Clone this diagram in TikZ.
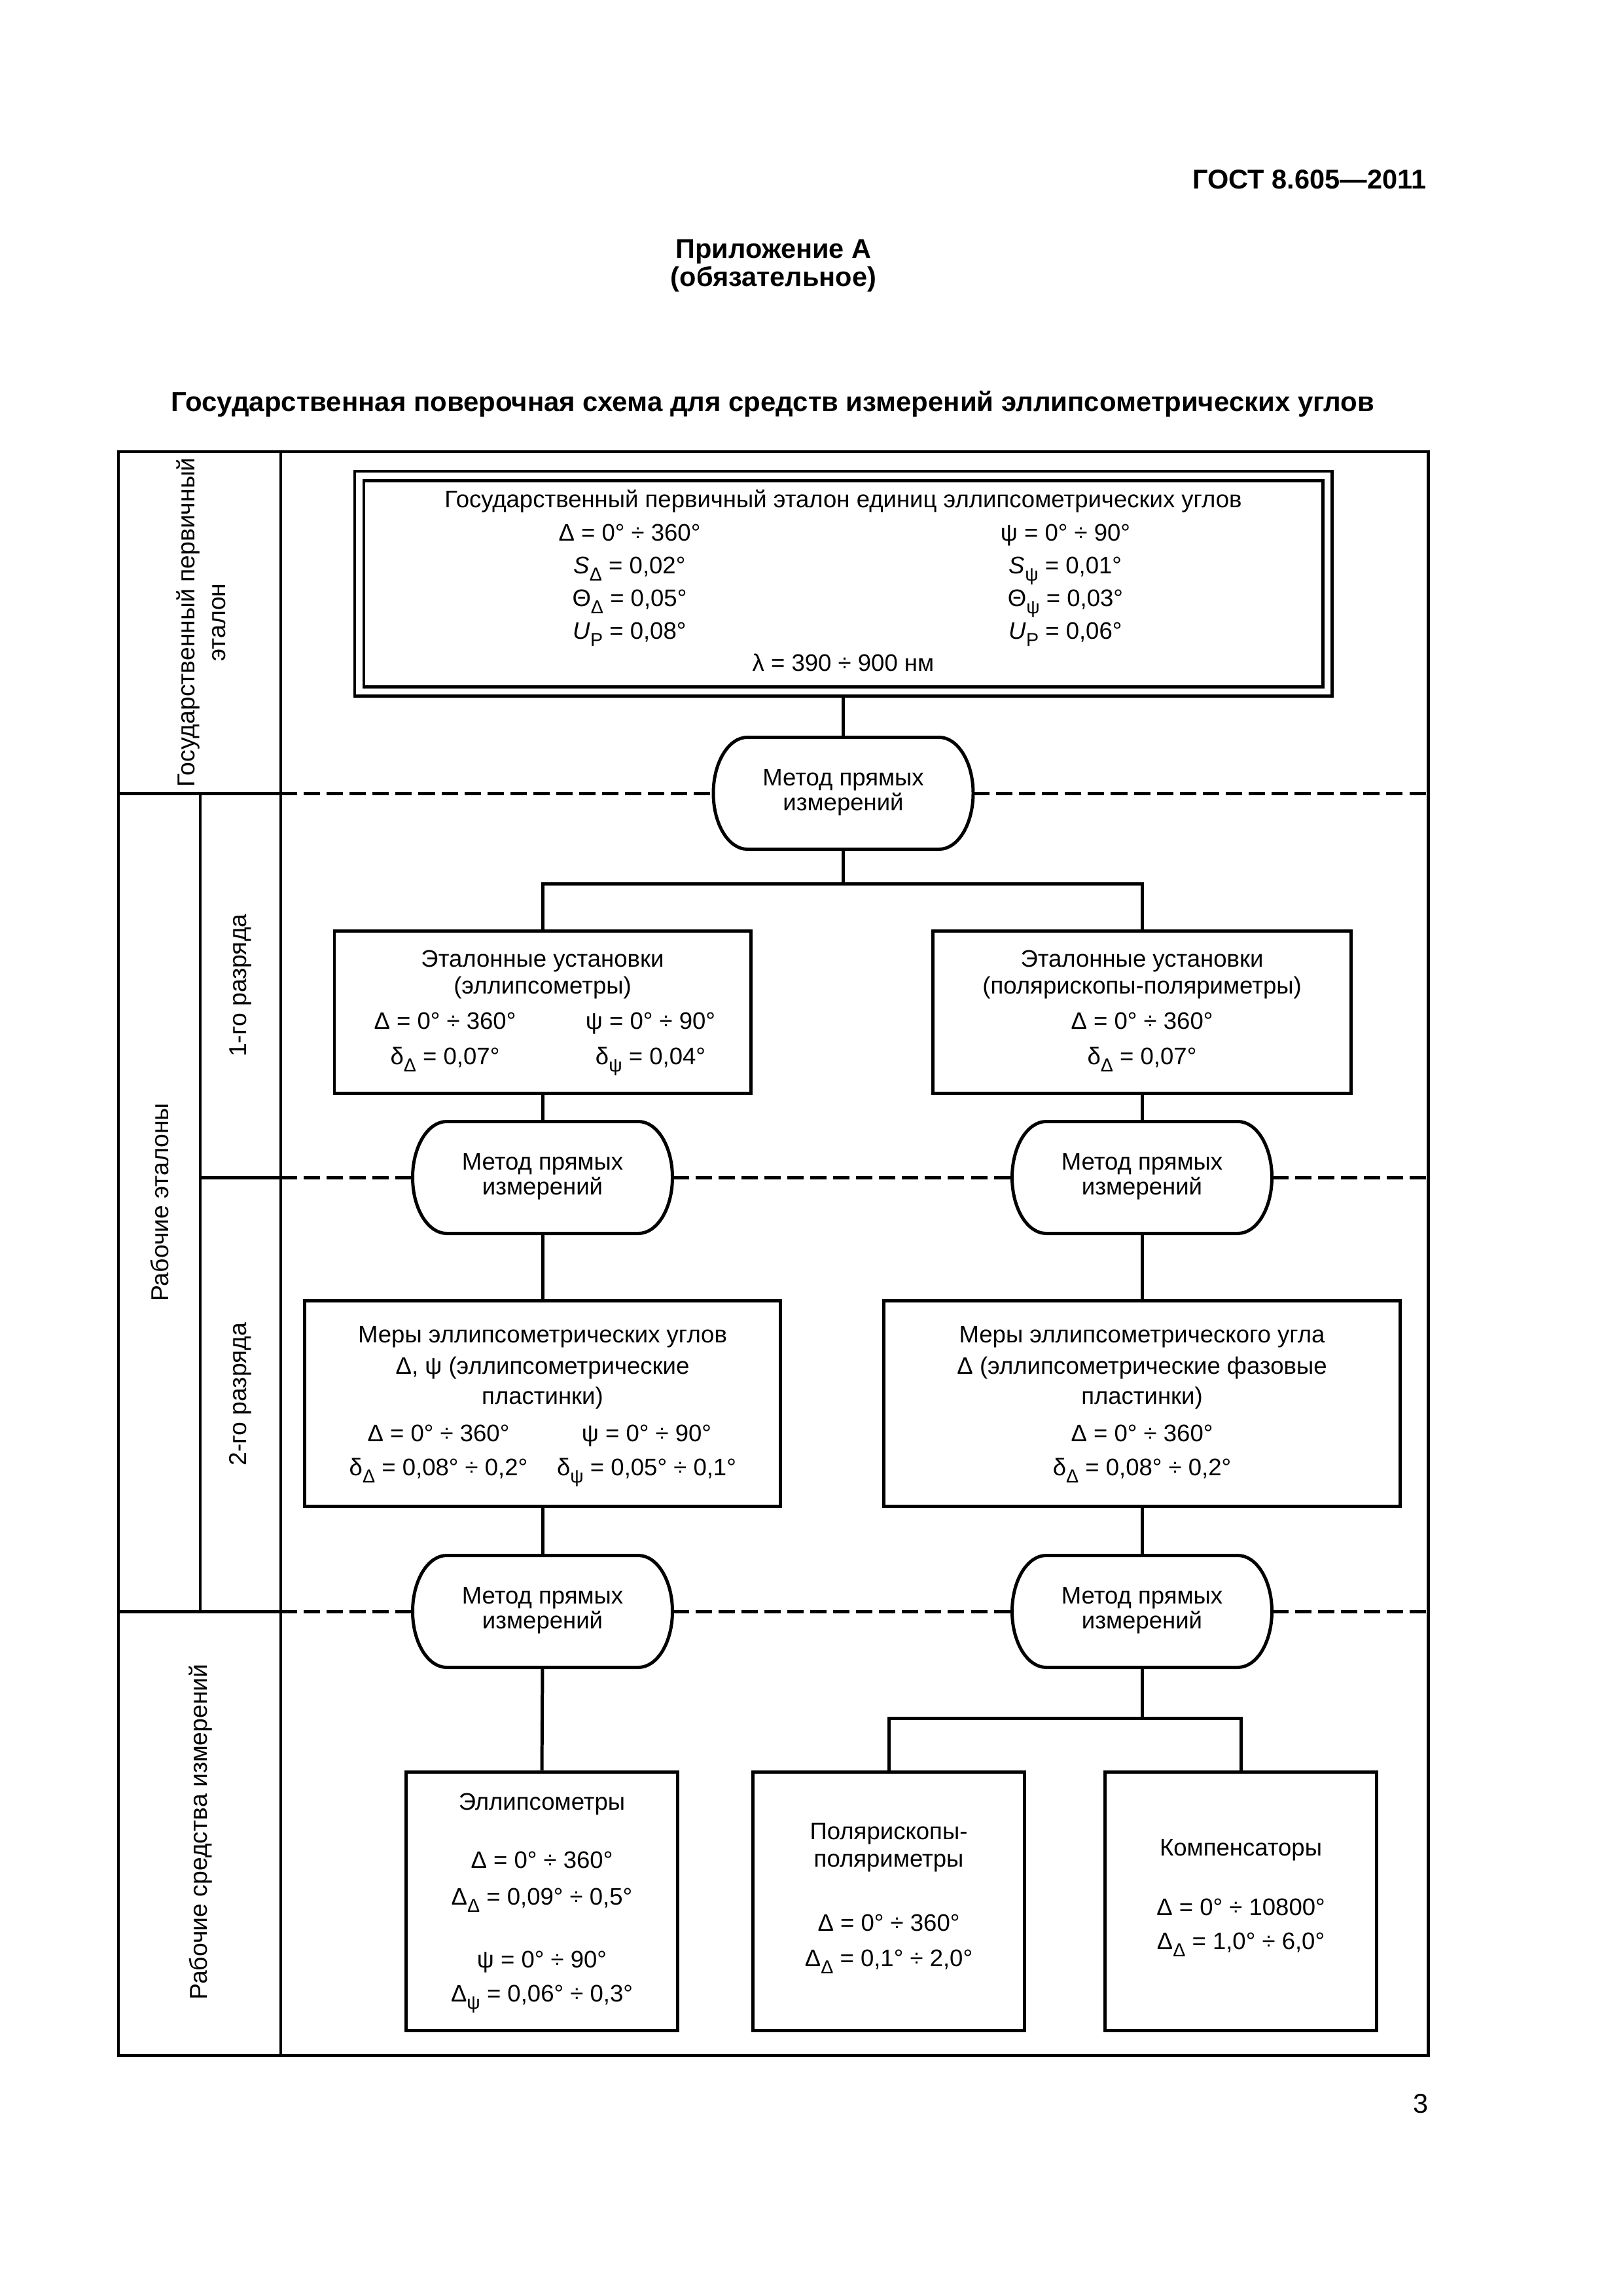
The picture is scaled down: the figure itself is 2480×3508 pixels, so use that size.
\documentclass[tikz,border=0pt]{standalone}
\usepackage{fontspec}
\setmainfont{Liberation Sans}
\usetikzlibrary{calc}
\newcommand\bodyf{\fontsize{8.8pt}{10.5pt}\selectfont}
\newcommand\labf{\fontsize{9pt}{11.3pt}\selectfont}
\newcommand\hdrf{\fontsize{10pt}{12pt}\selectfont\bfseries}
\newcommand\ttlf{\fontsize{10.1pt}{12pt}\selectfont\bfseries}
\newcommand\pagef{\fontsize{10pt}{12pt}\selectfont}
\newcommand\sub[1]{\raisebox{-0.32em}{\fontsize{6.9pt}{6.9pt}\selectfont #1}}
\newcommand\drawoval[1]{%
  \draw[ln, fill=white] ($(#1.north west)+(52,0)$) -- ($(#1.north east)+(-52,0)$)
    .. controls +(28.7,0) and +(0,-47.2) .. (#1.east)
    .. controls +(0,47.2) and +(28.7,0) .. ($(#1.south east)+(-52,0)$)
    -- ($(#1.south west)+(52,0)$)
    .. controls +(-28.7,0) and +(0,47.2) .. (#1.west)
    .. controls +(0,-47.2) and +(-28.7,0) .. ($(#1.north west)+(52,0)$) -- cycle;}
\newcommand\methodoval[3]{%
  \node[ovn] (#1) at (#2,#3) {};
  \drawoval{#1}
  \node[txt] (#1a) at ($(#1.center)+(0,-12)$) {Метод прямых};
  \node[txt] (#1b) at ($(#1.center)+(0,26)$) {измерений};}
\begin{document}
\begin{tikzpicture}[x=0.0846774mm,y=-0.0846774mm,
  ln/.style={line width=1.2pt},
  dsh/.style={line width=1.2pt, dash pattern=on 2.12mm off 0.85mm},
  boxn/.style 2 args={draw, line width=1.2pt, inner sep=0pt,
    minimum width={#1*0.0846774mm}, minimum height={#2*0.0846774mm}},
  ovn/.style={inner sep=0pt, outer sep=0pt,
    minimum width={397*0.0846774mm}, minimum height={171*0.0846774mm}},
  txt/.style={anchor=base, inner sep=0pt, font=\bodyf},
  lab/.style={rotate=90, inner sep=0pt, font=\labf, align=center},
  hdr/.style={anchor=base, inner sep=0pt, font=\hdrf}]
\useasboundingbox (0,0) rectangle (2480,3508);

% headers
\node[hdr, anchor=base east] (gost) at (2180,288) {ГОСТ 8.605—2011};
\node[hdr] (app) at (1182,394) {Приложение А};
\node[hdr] (oblig) at (1182,437) {(обязательное)};
\node[hdr, font=\ttlf] (title) at (1181,628) {Государственная поверочная схема для средств измерений эллипсометрических углов};
\node[anchor=base east, inner sep=0pt, font=\pagef] (pg) at (2183,3228) {3};

% table frame
\draw[ln] (181,690) rectangle (2182,3140);
\draw[ln] (429,690) -- (429,3140);
\draw[ln] (306,1212) -- (306,2462);
\draw[ln] (181,1212) -- (429,1212);
\draw[ln] (306,1799) -- (429,1799);
\draw[ln] (181,2462) -- (429,2462);

% row labels
\node[lab] (lg) at (307.5,951) {Государственный первичный\\эталон};
\node[lab] (lr) at (243.5,1837) {Рабочие эталоны};
\node[lab] (l1) at (367.5,1505.5) {1-го разряда};
\node[lab] (l2) at (367.5,2130) {2-го разряда};
\node[lab] (lw) at (307,2799) {Рабочие средства измерений};

% primary standard
\node[boxn={1493}{343}] (pb) at (1288.5,891.5) {};
\node[boxn={1465}{315}] (pbi) at (1288.5,891.5) {};
\node[txt] (p0) at (1288.5,775) {Государственный первичный эталон единиц эллипсометрических углов};
\node[txt] (p1l) at (962,826) {Δ = 0° ÷ 360°};
\node[txt] (p1r) at (1628,826) {ψ = 0° ÷ 90°};
\node[txt] (p2l) at (962,876) {\textit{S}\sub{Δ} = 0,02°};
\node[txt] (p2r) at (1628,876) {\textit{S}\sub{ψ} = 0,01°};
\node[txt] (p3l) at (962,926) {Θ\sub{Δ} = 0,05°};
\node[txt] (p3r) at (1628,926) {Θ\sub{ψ} = 0,03°};
\node[txt] (p4l) at (962,976) {\textit{U}\sub{P} = 0,08°};
\node[txt] (p4r) at (1628,976) {\textit{U}\sub{P} = 0,06°};
\node[txt] (p5) at (1288.5,1025) {λ = 390 ÷ 900 нм};

% methods
\methodoval{ov1}{1288.5}{1212}
\methodoval{ovL}{829}{1799}
\methodoval{ovR}{1745}{1799}
\methodoval{owL}{829}{2462}
\methodoval{owR}{1745}{2462}

% dashed boundaries
\draw[dsh] (429,1212) -- (ov1.west);
\draw[dsh] (ov1.east) -- (2182,1212);
\draw[dsh] (429,1799) -- (ovL.west);
\draw[dsh] (ovL.east) -- (ovR.west);
\draw[dsh] (ovR.east) -- (2182,1799);
\draw[dsh] (429,2462) -- (owL.west);
\draw[dsh] (owL.east) -- (owR.west);
\draw[dsh] (owR.east) -- (2182,2462);

% level 1
\node[boxn={636}{248}] (b1L) at (829,1546) {};
\node[boxn={639}{248}] (b1R) at (1745,1546) {};
\node[txt] (a1) at (829,1477) {Эталонные установки};
\node[txt] (a2) at (829,1518) {(эллипсометры)};
\node[txt] (a3l) at (680,1572) {Δ = 0° ÷ 360°};
\node[txt] (a3r) at (994,1572) {ψ = 0° ÷ 90°};
\node[txt] (a4l) at (680,1626) {δ\sub{Δ} = 0,07°};
\node[txt] (a4r) at (994,1626) {δ\sub{ψ} = 0,04°};
\node[txt] (c1) at (1745,1477) {Эталонные установки};
\node[txt] (c2) at (1745,1518) {(полярископы-поляриметры)};
\node[txt] (c3) at (1745,1572) {Δ = 0° ÷ 360°};
\node[txt] (c4) at (1745,1626) {δ\sub{Δ} = 0,07°};

% level 2
\node[boxn={727}{314}] (b2L) at (829,2144) {};
\node[boxn={789}{314}] (b2R) at (1745,2144) {};
\node[txt] (d1) at (829,2051) {Меры эллипсометрических углов};
\node[txt] (d2) at (829,2099) {Δ, ψ (эллипсометрические};
\node[txt] (d3) at (829,2145) {пластинки)};
\node[txt] (d4l) at (670,2202) {Δ = 0° ÷ 360°};
\node[txt] (d4r) at (988,2202) {ψ = 0° ÷ 90°};
\node[txt] (d5l) at (670,2254) {δ\sub{Δ} = 0,08° ÷ 0,2°};
\node[txt] (d5r) at (988,2254) {δ\sub{ψ} = 0,05° ÷ 0,1°};
\node[txt] (e1) at (1745,2051) {Меры эллипсометрического угла};
\node[txt] (e2) at (1745,2099) {Δ (эллипсометрические фазовые};
\node[txt] (e3) at (1745,2145) {пластинки)};
\node[txt] (e4) at (1745,2202) {Δ = 0° ÷ 360°};
\node[txt] (e5) at (1745,2254) {δ\sub{Δ} = 0,08° ÷ 0,2°};

% level 3
\node[boxn={415}{395}] (b3a) at (828,2904.5) {};
\node[boxn={415}{395}] (b3b) at (1358,2904.5) {};
\node[boxn={415}{395}] (b3c) at (1896,2904.5) {};
\node[txt] (f1) at (828,2765) {Эллипсометры};
\node[txt] (f2) at (828,2854) {Δ = 0° ÷ 360°};
\node[txt] (f3) at (828,2910) {Δ\sub{Δ} = 0,09° ÷ 0,5°};
\node[txt] (f4) at (828,3006) {ψ = 0° ÷ 90°};
\node[txt] (f5) at (828,3058) {Δ\sub{ψ} = 0,06° ÷ 0,3°};
\node[txt] (g1) at (1358,2810) {Полярископы-};
\node[txt] (g2) at (1358,2852) {поляриметры};
\node[txt] (g3) at (1358,2950) {Δ = 0° ÷ 360°};
\node[txt] (g4) at (1358,3004) {Δ\sub{Δ} = 0,1° ÷ 2,0°};
\node[txt] (h1) at (1896,2835) {Компенсаторы};
\node[txt] (h2) at (1896,2926) {Δ = 0° ÷ 10800°};
\node[txt] (h3) at (1896,2978) {Δ\sub{Δ} = 1,0° ÷ 6,0°};

% connectors
\coordinate (j1) at (1288.5,1350);
\coordinate (j3) at (1745,2625);
\draw[ln] (pb.south) -- (ov1.north);
\draw[ln] (ov1.south) -- (j1);
\draw[ln] (b1L.north) |- (j1) -| (b1R.north);
\draw[ln] (b1L.south) -- (ovL.north);
\draw[ln] (ovL.south) -- (b2L.north);
\draw[ln] (b2L.south) -- (owL.north);
\draw[ln] (owL.south) -- (b3a.north);
\draw[ln] (b1R.south) -- (ovR.north);
\draw[ln] (ovR.south) -- (b2R.north);
\draw[ln] (b2R.south) -- (owR.north);
\draw[ln] (owR.south) -- (j3);
\draw[ln] (b3b.north) |- (j3) -| (b3c.north);
\end{tikzpicture}
\end{document}
